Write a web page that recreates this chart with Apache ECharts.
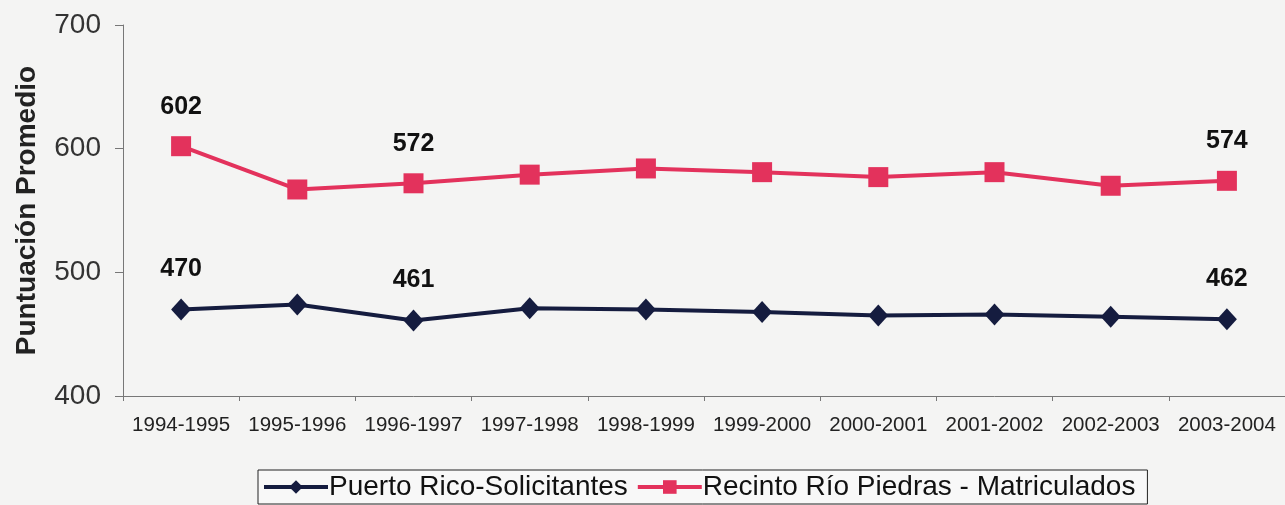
<!DOCTYPE html>
<html><head><meta charset="utf-8">
<script src="https://cdn.jsdelivr.net/npm/echarts@6/dist/echarts.min.js"></script>
<style>html,body{margin:0;padding:0;background:#f4f4f3;}#c{width:1285px;height:505px;}</style>
</head><body><div id="c"></div>
<script>
const categories = ['1994-1995','1995-1996','1996-1997','1997-1998','1998-1999','1999-2000','2000-2001','2001-2002','2002-2003','2003-2004'];
const prSolicitantes = [470, 474, 461, 471, 470, 468, 465, 466, 464, 462];
const rpMatriculados = [602, 567, 572, 579, 584, 581, 577, 581, 570, 574];
const labeledIdx = [0, 2, 9];
const yTicks = [400, 500, 600, 700];

function withLabels(arr){
  return arr.map((v,i)=>({value:v,label:{show:labeledIdx.includes(i)}}));
}
const chart = echarts.init(document.getElementById('c'));
const lbl = {position:'top',distance:17,color:'#111',fontWeight:'bold',fontSize:25,fontFamily:'Liberation Sans'};
chart.setOption({
  backgroundColor:'#f4f4f3',
  animation:false,
  grid:{left:123,right:-10,top:25,bottom:109},
  xAxis:{type:'category',data:categories,boundaryGap:true,
    axisLine:{lineStyle:{color:'#777',width:1}},
    axisTick:{show:true,length:5,lineStyle:{color:'#777'}},
    axisLabel:{color:'#222',fontSize:20.5,fontFamily:'Liberation Sans',margin:19,interval:0}},
  yAxis:{type:'value',min:yTicks[0],max:yTicks[yTicks.length-1],interval:100,
    name:'Puntuación Promedio',nameLocation:'middle',nameGap:82,
    nameTextStyle:{fontSize:28,fontWeight:'bold',color:'#222',fontFamily:'Liberation Sans'},
    axisLine:{show:true,lineStyle:{color:'#777',width:1}},
    axisTick:{show:true,length:8,lineStyle:{color:'#777'}},
    splitLine:{show:false},
    axisLabel:{color:'#333',fontSize:28,fontFamily:'Liberation Sans',margin:22}},
  legend:{left:258,top:470,padding:[3,12,3,4],itemGap:8,itemWidth:64,itemHeight:17,
    borderColor:'#222',borderWidth:1,backgroundColor:'#f8f8f8',
    lineStyle:{width:4},
    textStyle:{fontSize:28,color:'#111',fontFamily:'Liberation Sans',padding:[0,0,0,-4]},
    data:['Puerto Rico-Solicitantes','Recinto Río Piedras - Matriculados']},
  series:[
    {name:'Puerto Rico-Solicitantes',type:'line',data:withLabels(prSolicitantes),
     symbol:'diamond',symbolSize:[20,22],lineStyle:{color:'#151c3f',width:4},
     itemStyle:{color:'#151c3f'},label:lbl},
    {name:'Recinto Río Piedras - Matriculados',type:'line',data:withLabels(rpMatriculados),
     symbol:'rect',symbolSize:20,lineStyle:{color:'#e3325c',width:4},
     itemStyle:{color:'#e3325c'},label:lbl}
  ]
});
</script></body></html>
